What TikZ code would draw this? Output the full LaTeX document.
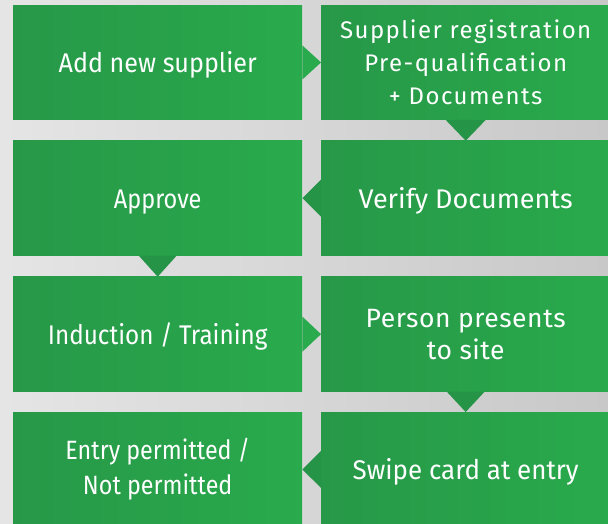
\documentclass[tikz,border=0pt]{standalone}
\usepackage{fontspec}
\setmainfont{Fira Sans}
\newfontfamily\spacedA[LetterSpace=6]{Fira Sans}
\newfontfamily\spacedB[LetterSpace=2]{Fira Sans}
\newfontfamily\stA[FakeStretch=0.93]{Fira Sans}
\newfontfamily\stB[FakeStretch=0.87]{Fira Sans}
\newfontfamily\stC[FakeStretch=0.90]{Fira Sans}
\newfontfamily\stD[FakeStretch=0.96]{Fira Sans}
\newfontfamily\narrow[FakeStretch=0.88]{Fira Sans}
\usetikzlibrary{calc}
\definecolor{gL}{RGB}{39,152,72}
\definecolor{gM}{RGB}{37,148,71}
\definecolor{gR}{RGB}{41,170,76}
\definecolor{bgL}{RGB}{229,229,229}
\definecolor{bgR}{RGB}{200,200,200}
\begin{document}
\begin{tikzpicture}[x=1pt,y=-1pt,
  box/.style={minimum width=289pt,minimum height=114.5pt,inner sep=0pt,
    shading=axis,left color=gL,middle color=gM,right color=gR,
    text=white,align=center,anchor=north west,font=\fontsize{27}{33}\selectfont},
  one/.style={text height=20.5pt,text depth=0pt}]
\useasboundingbox (0,0) rectangle (608,524);
\clip (0,0) rectangle (608,524);
\shade[left color=bgL,right color=bgR] (0,0) rectangle (608,524);
% boxes
\node[box,one,font=\fontsize{27}{33}\stA] (a1) at (13,5) {Add new supplier};
\node[box,font=\fontsize{24}{33}\spacedA] (a2) at (321,5) {Supplier registration\\Pre-qualification\\+ Documents};
\node[box,one] (a3) at (321,140.7) {Verify Documents};
\node[box,one,font=\fontsize{27}{33}\stB] (a4) at (13,140.7) {Approve};
\node[box,one,font=\fontsize{27}{33}\stC] (a5) at (13,276.7) {Induction / Training};
\node[box,font=\fontsize{26.5}{32}\spacedB] (a6) at (321,276.7) {Person presents\\to site};
\node[box,one,font=\fontsize{27}{33}\stD] (a7) at (321,412) {Swipe card at entry};
\node[box,font=\fontsize{26.5}{35}\narrow] (a8) at (13,412) {Entry permitted /\\Not permitted};
% connectors
\fill[gR] ($(a1.east)+(0,-17)$) -- (a2.west) -- ($(a1.east)+(0,17)$) -- cycle;
\fill[gM] ($(a2.south)+(-20,0)$) -- (a3.north) -- ($(a2.south)+(20,0)$) -- cycle;
\fill[gM] ($(a3.west)+(0,-18.5)$) -- (a4.east) -- ($(a3.west)+(0,18.5)$) -- cycle;
\fill[gM] ($(a4.south)+(-19,0)$) -- (a5.north) -- ($(a4.south)+(19,0)$) -- cycle;
\fill[gR] ($(a5.east)+(0,-17.5)$) -- (a6.west) -- ($(a5.east)+(0,17.5)$) -- cycle;
\fill[gM] ($(a6.south)+(-19,0)$) -- (a7.north) -- ($(a6.south)+(19,0)$) -- cycle;
\fill[gM] ($(a7.west)+(0,-18.5)$) -- (a8.east) -- ($(a7.west)+(0,18.5)$) -- cycle;
\end{tikzpicture}
\end{document}
